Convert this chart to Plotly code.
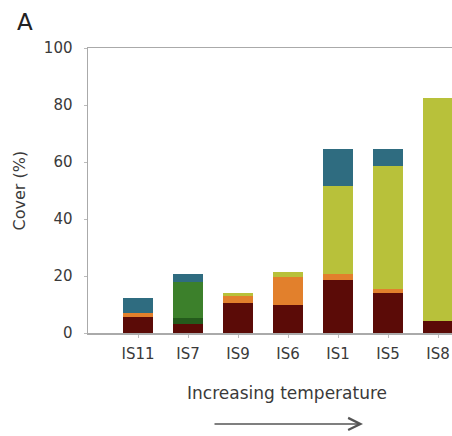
import plotly.graph_objects as go

categories = ["IS11", "IS7", "IS9", "IS6", "IS1", "IS5", "IS8"]
maroon_vals = [5.5, 3.2, 10.6, 9.8, 18.6, 13.9, 4.3]
orange_vals = [1.4, 0.0, 2.4, 9.7, 2.1, 1.5, 0.0]
darkgreen_vals = [0.0, 2.0, 0.0, 0.0, 0.0, 0.0, 0.0]
green_vals = [0.0, 12.8, 0.0, 0.0, 0.0, 0.0, 0.0]
yellowgreen_vals = [0.0, 0.0, 0.9, 2.0, 30.9, 43.2, 78.1]
blue_vals = [5.3, 2.7, 0.0, 0.0, 12.8, 5.8, 0.0]
y_ticks = [0, 20, 40, 60, 80, 100]

series = [
    ("Group 1", maroon_vals, "#5b0b07"),
    ("Group 2", orange_vals, "#e2802c"),
    ("Group 3", darkgreen_vals, "#245b1c"),
    ("Group 4", green_vals, "#3c802b"),
    ("Group 5", yellowgreen_vals, "#b8c13a"),
    ("Group 6", blue_vals, "#2f6c80"),
]

FONT = "DejaVu Sans"
TXT = "#3a3a3a"
fig = go.Figure()
for name, vals, col in series:
    fig.add_trace(go.Bar(
        x=list(range(len(categories))), y=vals, name=name,
        marker=dict(color=col, line=dict(width=0)), width=0.6,
        showlegend=False,
    ))

fig.update_layout(
    width=452, height=436,
    margin=dict(l=88, r=0, t=48, b=103),
    barmode="stack",
    plot_bgcolor="white", paper_bgcolor="white",
    font=dict(family=FONT, size=15, color=TXT),
    xaxis=dict(
        range=[-1, 6.28], tickmode="array",
        tickvals=list(range(len(categories))), ticktext=categories,
        showline=True, linecolor="#aaaaaa", linewidth=1.5, mirror=True,
        ticks="outside", ticklen=3, tickcolor="#bbbbbb",
        ticklabelstandoff=3,
        showgrid=False, zeroline=False,
        tickfont=dict(family=FONT, size=15, color=TXT),
    ),
    yaxis=dict(
        range=[0, 100], tickmode="array", tickvals=y_ticks,
        showline=True, linecolor="#aaaaaa", linewidth=1.5,
        ticks="outside", ticklen=3, tickcolor="#bbbbbb",
        ticklabelstandoff=8,
        showgrid=False, zeroline=False,
        tickfont=dict(family=FONT, size=15, color=TXT),
    ),
    annotations=[
        dict(text="A", xref="paper", yref="paper", x=-0.173, y=1.091,
             showarrow=False, font=dict(family=FONT, size=23, color="#222"),
             xanchor="center", yanchor="middle"),
        dict(text="Cover (%)", xref="paper", yref="paper", x=-0.187, y=0.5,
             showarrow=False, textangle=-90,
             font=dict(family=FONT, size=16, color=TXT),
             xanchor="center", yanchor="middle"),
        dict(text="Increasing temperature", xref="paper", yref="paper",
             x=0.547, y=-0.2105, showarrow=False,
             font=dict(family=FONT, size=17, color=TXT),
             xanchor="center", yanchor="middle"),
        dict(text="", xref="paper", yref="paper", x=0.7555, y=-0.319,
             ax=-150, ay=0, showarrow=True, arrowhead=5, arrowsize=1.6,
             arrowwidth=1.5, arrowcolor="#555"),
    ],
)

fig.write_html(
    "out.html",
    config={"displayModeBar": False, "staticPlot": True},
    post_script="document.body.style.margin='0';document.body.style.overflow='hidden';",
)
